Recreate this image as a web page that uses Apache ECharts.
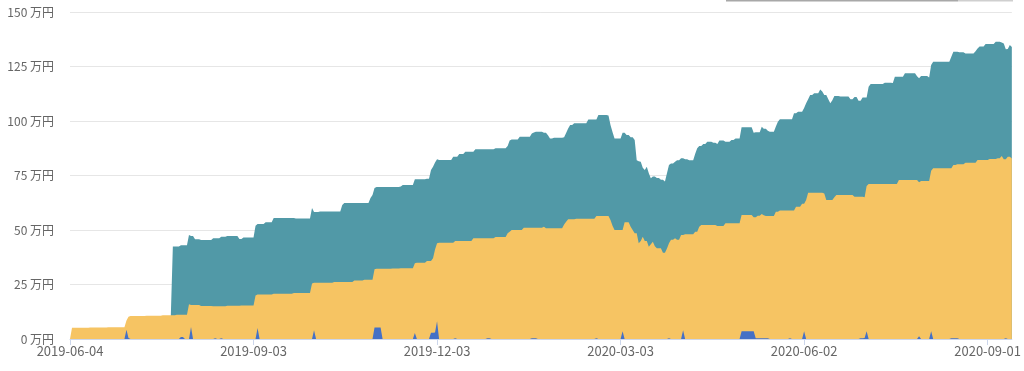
<!DOCTYPE html>
<html>
<head>
<meta charset="utf-8">
<script src="https://cdn.jsdelivr.net/npm/echarts@6/dist/echarts.min.js"></script>
<style>
html,body{margin:0;padding:0;background:#fff;}
#chart{width:1024px;height:371px;}
</style>
</head>
<body>
<div id="chart"></div>
<script>
// ---- data ----
const startDate = '2019-06-04';
const dayCount = 468;
const yTicks = [0, 25, 50, 75, 100, 125, 150];
const yUnit = ' 万円';

// top (total) boundary of teal area
const tealValues = [
null,null,null,null,null,null,null,null,null,null,
null,null,null,null,null,null,null,null,null,null,
null,null,null,null,null,null,null,null,null,null,
null,null,null,null,null,null,null,null,null,null,
null,null,null,null,null,null,null,null,null,null,
11.1,42.4,42.4,42.4,42.4,43.0,43.0,43.0,43.0,47.7,
47.2,47.2,45.8,45.8,45.8,45.4,45.4,45.4,45.4,45.4,
45.4,46.2,46.2,46.2,46.2,46.9,46.9,46.9,47.2,47.2,
47.2,47.2,47.2,47.2,45.9,45.9,46.6,46.6,46.6,46.6,
46.6,46.6,52.0,52.8,52.8,52.8,52.8,53.5,53.5,53.5,
53.5,55.5,55.5,55.5,55.5,55.5,55.5,55.5,55.5,55.5,
55.5,55.5,55.3,55.3,55.3,55.3,55.3,55.3,55.3,55.3,
60.1,58.3,58.3,58.3,58.5,58.5,58.5,58.5,58.5,58.5,
58.5,58.5,58.5,58.5,58.5,61.5,62.4,62.4,62.4,62.4,
62.4,62.4,62.4,62.4,62.4,62.4,62.4,62.4,62.4,64.7,
66.0,69.3,69.7,69.7,69.7,69.7,69.7,69.7,69.7,69.7,
69.7,69.7,69.7,69.7,69.9,70.6,70.6,70.6,70.6,70.6,
70.6,73.3,73.3,73.3,73.3,73.3,73.3,73.5,73.5,77.5,
79.0,81.0,82.4,82.1,82.1,82.1,82.1,82.1,82.1,82.1,
83.6,83.6,83.6,84.9,84.9,84.9,85.9,85.9,85.9,85.9,
85.9,87.0,87.0,87.0,87.0,87.0,87.0,87.0,87.0,87.0,
87.0,87.5,87.5,87.5,87.5,87.5,87.5,88.5,91.0,91.5,
91.5,91.5,91.5,92.8,92.8,92.8,92.8,92.8,92.8,94.3,
94.7,95.1,95.1,95.1,95.1,94.6,94.6,93.5,92.0,92.0,
92.3,92.3,92.3,92.3,92.3,92.5,94.5,96.6,98.2,98.2,
99.0,99.0,99.0,99.0,99.0,99.0,99.0,100.7,100.7,100.7,
100.7,100.7,102.8,102.8,102.8,102.8,102.8,102.5,98.2,95.0,
92.0,92.0,92.0,92.0,94.6,94.6,93.6,93.6,92.5,92.5,
91.3,82.0,81.5,81.3,78.5,77.5,79.0,76.0,73.7,74.5,
74.5,73.9,73.9,73.0,73.0,72.2,76.0,79.8,80.5,80.5,
81.3,82.0,82.0,82.9,82.9,82.5,82.5,82.0,82.0,82.0,
85.0,87.5,88.5,88.5,89.5,89.5,90.5,90.5,90.5,90.0,
90.0,89.5,91.0,91.0,91.0,90.5,90.5,90.5,91.3,91.3,
92.0,92.0,92.0,97.1,97.1,97.1,97.1,97.1,97.1,94.6,
94.8,94.8,94.8,97.4,96.4,96.4,95.5,95.1,95.1,95.1,
97.5,99.7,100.8,100.8,100.8,100.8,100.8,100.8,100.8,103.5,
103.5,104.3,104.3,104.3,106.0,108.1,110.0,111.9,111.9,112.7,
112.7,112.7,114.5,113.5,111.9,111.9,110.0,108.1,109.5,111.5,
111.5,111.5,111.2,111.2,111.2,111.2,111.2,110.0,110.0,111.0,
111.0,109.3,109.3,110.8,110.8,110.8,115.7,117.0,117.0,117.0,
117.0,117.0,117.0,117.0,117.6,117.6,117.6,117.6,117.4,120.3,
120.3,120.3,120.3,120.3,121.9,121.9,121.9,121.9,121.9,121.9,
120.5,119.6,120.6,120.6,120.6,120.6,120.0,125.7,127.2,127.2,
127.2,127.2,127.2,127.2,127.2,127.2,127.2,129.5,131.8,131.8,
131.8,131.5,131.5,131.5,131.0,131.0,131.0,131.0,131.0,132.0,
133.3,134.2,134.2,134.2,135.3,135.3,135.3,135.3,135.3,136.4,
136.4,136.4,136.0,135.5,132.9,133.0,134.9,134.0
];

// top boundary of yellow area
const yellowValues = [
0,5.2,5.2,5.2,5.2,5.2,5.2,5.2,5.2,5.2,
5.3,5.3,5.3,5.3,5.3,5.3,5.3,5.3,5.3,5.4,
5.4,5.4,5.4,5.4,5.4,5.4,5.4,5.4,8.5,10.2,
10.5,10.5,10.5,10.5,10.5,10.5,10.5,10.5,10.7,10.7,
10.7,10.7,10.7,10.7,10.7,10.7,10.9,10.9,10.9,10.9,
10.9,10.9,10.9,11.1,11.1,11.1,11.1,11.1,11.1,15.9,
15.6,15.6,15.6,15.6,15.6,15.1,15.1,15.1,15.1,15.1,
15.1,15.0,15.0,15.0,15.0,15.0,15.0,15.0,15.2,15.2,
15.2,15.2,15.2,15.2,15.2,15.4,15.4,15.4,15.4,15.4,
15.4,15.4,20.0,20.4,20.4,20.4,20.4,20.4,20.4,20.4,
20.4,20.7,20.7,20.7,20.7,20.7,20.7,20.7,20.7,20.7,
20.7,21.1,21.1,21.1,21.1,21.1,21.1,21.1,21.1,21.1,
25.5,25.8,25.8,25.8,25.8,25.8,25.8,25.8,25.8,25.8,
25.8,26.2,26.2,26.2,26.2,26.2,26.2,26.2,26.2,26.2,
26.2,26.8,26.8,26.8,26.8,26.8,27.2,27.2,27.2,27.2,
27.2,32.0,32.2,32.2,32.2,32.2,32.2,32.2,32.2,32.2,
32.3,32.3,32.3,32.3,32.4,32.4,32.4,32.4,32.4,32.4,
32.4,34.7,35.0,35.0,35.0,35.0,35.0,35.8,35.8,35.8,
37.0,41.0,43.9,44.2,44.2,44.2,44.2,44.2,44.2,44.2,
44.2,45.0,45.0,45.0,45.0,45.0,45.0,45.0,45.0,45.0,
46.2,46.2,46.2,46.2,46.2,46.2,46.2,46.2,46.2,46.2,
46.2,46.8,46.8,46.8,46.8,46.8,46.8,48.5,49.2,50.0,
50.0,50.0,50.0,50.0,50.0,51.0,51.0,51.0,51.0,51.0,
51.0,51.0,51.0,51.0,51.0,51.5,50.8,50.8,50.8,50.8,
50.8,50.8,50.8,50.8,50.8,52.5,53.8,54.9,54.9,54.9,
54.9,55.2,55.2,55.2,55.2,55.2,55.2,55.2,55.2,55.2,
55.2,56.4,56.4,56.4,56.4,56.4,56.4,56.4,54.6,52.0,
50.0,50.0,50.0,50.0,50.0,53.5,53.5,53.5,51.5,50.0,
48.5,48.5,43.9,45.0,46.9,45.0,45.0,42.3,43.5,44.6,
42.5,41.6,41.6,41.6,39.6,39.6,41.5,43.9,45.5,45.5,
46.2,45.5,45.5,47.7,47.7,48.0,48.0,48.0,48.0,48.0,
49.2,49.2,51.5,52.3,52.3,52.3,52.3,52.3,52.3,52.3,
52.3,51.8,51.8,51.8,51.8,53.1,53.1,53.1,53.1,53.1,
53.1,53.1,53.1,56.9,56.9,56.9,56.9,56.9,56.9,55.8,
55.8,56.5,56.5,57.3,56.8,56.4,56.4,56.4,56.4,56.4,
58.4,58.4,58.9,58.9,58.9,58.9,58.9,58.9,58.9,58.9,
60.7,60.7,60.7,62.0,62.0,63.8,67.1,67.1,67.1,67.1,
67.1,67.1,67.1,67.1,66.8,63.8,63.8,63.8,63.8,65.0,
66.1,66.1,66.1,66.1,66.1,66.1,66.1,66.1,66.1,65.3,
65.3,65.3,65.3,65.3,65.0,70.2,71.1,71.1,71.1,71.1,
71.1,71.1,71.1,71.1,71.1,71.1,71.1,71.1,71.1,71.1,
71.1,72.9,72.9,72.9,72.9,72.9,72.9,72.9,72.9,72.9,
72.9,71.9,72.5,72.5,72.5,72.5,72.5,77.2,78.3,78.3,
78.3,78.3,78.3,78.3,78.3,78.3,78.3,78.3,79.8,79.8,
80.2,80.2,80.2,80.2,80.9,80.9,80.9,80.9,80.9,80.9,
82.1,82.1,82.1,82.1,82.1,82.1,82.6,82.6,82.6,82.6,
82.9,82.9,83.9,82.5,82.5,83.6,83.6,82.8
];

// blue spikes at the bottom
const blueValues = [
0,0,0,0,0,0,0,0,0,0,
0,0,0,0,0,0,0,0,0,0,
0,0,0,0,0,0,0,0,4.3,0.5,
0,0,0,0,0,0,0,0,0,0,
0,0,0,0,0,0,0,0,0,0,
0,0,0,0,0,0.9,0.9,0,0,0,
5.5,0,0,0,0,0,0,0,0,0,
0,0,0.3,0,0,0.3,0,0,0,0,
0,0,0,0,0,0,0,0,0,0,
0,0,0,5.0,0,0,0,0,0,0,
0,0,0,0,0,0,0,0,0,0,
0,0,0,0,0,0,0,0,0,0,
0,4.0,0,0,0,0,0,0,0,0,
0,0,0,0,0,0,0,0,0,0,
0,0,0,0,0,0,0,0,0,0,
0,5.3,5.3,5.3,5.3,0,0,0,0,0,
0,0,0,0,0,0,0,0,0,0,
0,2.7,0,0,0,0,0,0,0,2.9,
2.9,3.0,8.1,0,0,0,0,0,0,0,
0,0.3,0,0,0,0,0,0,0,0,
0,0,0,0,0,0,0,0.3,0.3,0,
0,0,0,0,0,0,0,0,0,0,
0,0,0,0,0,0,0,0,0,0.3,
0.3,0.3,0,0,0,0,0,0,0,0,
0,0,0,0,0,0,0,0,0,0,
0,0,0,0,0,0,0,0,0,0,
0,0.3,0,0,0,0,0,0,0,0,
0,0,0,0,3.5,0,0,0,0,0,
0,0,0,0,0,0,0,0,0,0,
0,0,0,0,0,0,0,0.4,0,0,
0,0,0,0,4.0,0,0,0,0,0,
0,0,0,0,0,0,0,0,0,0,
0,0,0,0,0,0,0,0,0,0,
0,0,0,3.5,3.5,3.5,3.5,3.5,3.5,3.5,
0.3,0.3,0.3,0.3,0.3,0.3,0.3,0,0,0,
0,0,0,0,0,0,0,0.3,0,0,
0,0,0,0,3.5,0,0,0,0,0,
0,0,0,0,0,0,0,0,0,0,
0,0,0,0,0,0,0,0,0,0,
0,0,0.3,0.3,0.5,3.5,0,0,0,0,
0,0,0,0,0,0,0,0,0,0,
0,0,0,0,0,0,0,0,0,0,
0,1.3,0,0,0,0,0,3.5,0,0,
0,0,0,0,0,0,0,0.3,0.3,0.3,
0.3,0,0,0,0,0,0,0,0,0,
0,0,0,0,0,0,0,0,0,0,
0,0,0,0,0.3,0,0,0
];

// ---- categories (one per day) ----
const dates = [];
(function(){
  const d0 = new Date(startDate + 'T00:00:00Z');
  for (let i = 0; i < dayCount; i++) {
    const d = new Date(d0.getTime() + i * 86400000);
    const m = String(d.getUTCMonth() + 1).padStart(2, '0');
    const dd = String(d.getUTCDate()).padStart(2, '0');
    dates.push(d.getUTCFullYear() + '-' + m + '-' + dd);
  }
})();

const COLORS = { teal: '#5199A7', yellow: '#F6C463', blue: '#4470C6' };

const chart = echarts.init(document.getElementById('chart'), null, { renderer: 'canvas' });

function areaSeries(name, data, color) {
  return {
    name: name,
    type: 'line',
    data: data,
    symbol: 'none',
    showSymbol: false,
    lineStyle: { width: 0, color: color },
    itemStyle: { color: color },
    areaStyle: { color: color, opacity: 1 },
    emphasis: { disabled: true },
    animation: false
  };
}

chart.setOption({
  animation: false,
  textStyle: { fontFamily: "'Noto Sans CJK JP', 'Noto Sans', sans-serif" },
  grid: { left: 70, right: 11, top: 12, bottom: 32, containLabel: false },
  xAxis: {
    type: 'category',
    data: dates,
    boundaryGap: false,
    axisLine: { lineStyle: { color: '#ccd6eb', width: 1 } },
    axisTick: { show: true, interval: 90, length: 6, lineStyle: { color: '#ccd6eb' } },
    axisLabel: { interval: 90, color: '#666666', fontSize: 13, margin: 6 },
    splitLine: { show: false }
  },
  yAxis: {
    type: 'value',
    min: yTicks[0],
    max: yTicks[yTicks.length - 1],
    interval: yTicks[1] - yTicks[0],
    axisLine: { show: false },
    axisTick: { show: false },
    axisLabel: { formatter: function (v) { return v + yUnit; }, color: '#666666', fontSize: 12, margin: 16 },
    splitLine: { lineStyle: { color: '#e6e6e6', width: 1 } }
  },
  graphic: [
    { type: 'rect', shape: { x: 726, y: 0, width: 232, height: 1.5 }, style: { fill: '#a8a8a8' }, silent: true },
    { type: 'rect', shape: { x: 958, y: 0, width: 55, height: 1.5 }, style: { fill: '#cfcfcf' }, silent: true }
  ],
  series: [
    areaSeries('teal', tealValues, COLORS.teal),
    areaSeries('yellow', yellowValues, COLORS.yellow),
    areaSeries('blue', blueValues, COLORS.blue)
  ]
});
</script>
</body>
</html>
